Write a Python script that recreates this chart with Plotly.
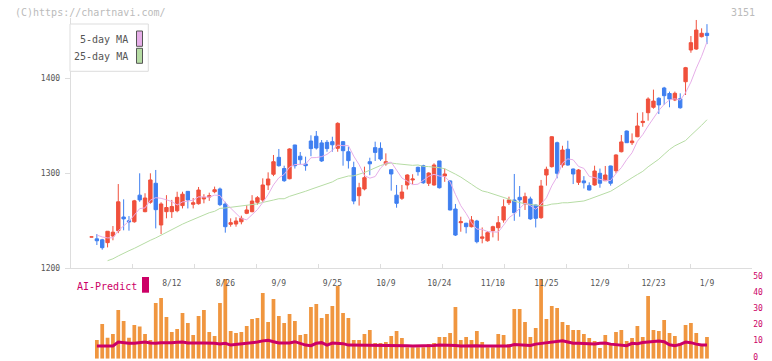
import numpy as np
import pandas as pd
import plotly.graph_objects as go

# ---------------- data ----------------
opens = [1233, 1231, 1230, 1227, 1234, 1239.6, 1254, 1250, 1249, 1277,
         1259.6, 1269.5, 1289.5, 1245.6, 1259.6, 1259.6, 1260.6, 1266, 1281, 1267.4,
         1268, 1273, 1275, 1280.6, 1283.5, 1267.7, 1246.3, 1246.6, 1249, 1257.9,
         1259.6, 1269.5, 1271.9, 1287.7, 1299, 1316.8, 1305, 1294.3, 1329.8, 1318,
         1309.8, 1334, 1339, 1332, 1332.6, 1333.3, 1326.3, 1333.3, 1322.7, 1306,
         1276.4, 1283.5, 1312.2, 1327, 1326.3, 1310, 1303.8, 1277, 1273.7, 1287.7,
         1293, 1306.3, 1308, 1289.5, 1287.7, 1313, 1297.2, 1292, 1262.4, 1248,
         1247.4, 1243.8, 1249.8, 1231.6, 1229, 1239.6, 1242.7, 1250.8, 1269, 1271.9,
         1274.7, 1267.7, 1273, 1266.6, 1253.3, 1298.2, 1307, 1332.2, 1308.7, 1325.3,
         1304.5, 1290.5, 1292, 1287, 1287.7, 1300, 1292.2, 1307.7, 1302.7, 1322.7,
         1344.5, 1332.2, 1338.5, 1353.4, 1363.8, 1369.5, 1379, 1389.8, 1384, 1377.2,
         1378.5, 1396.4, 1429.8, 1430.8, 1443.8, 1447.4]
highs = [1233, 1236, 1231, 1239, 1244.5, 1288.7, 1272.6, 1255, 1272, 1300,
         1279, 1300, 1303.5, 1269.5, 1277, 1272, 1280.6, 1280.6, 1281, 1274,
         1285.6, 1278, 1279.6, 1286, 1285, 1270, 1252.6, 1253.7, 1255.4, 1266.6,
         1277, 1276, 1294.7, 1301, 1319.3, 1325.6, 1308, 1326.3, 1330, 1322.4,
         1317.5, 1340, 1344.5, 1335, 1335, 1338.5, 1353.7, 1334, 1328, 1312.2,
         1290, 1307, 1316.4, 1333.3, 1332.6, 1321, 1304, 1287.7, 1287.7, 1299,
         1299, 1307, 1309, 1301, 1310.5, 1313, 1305, 1292.5, 1267.7, 1254.3,
         1248, 1255, 1251, 1243, 1239.3, 1244.8, 1255, 1272.6, 1275.4, 1299.3,
         1286.6, 1279.6, 1275.4, 1267, 1293, 1307, 1339, 1333.3, 1329, 1334.3,
         1305, 1304.5, 1297, 1290.5, 1308, 1305, 1307.7, 1308, 1320, 1340.3,
         1345, 1342, 1363.7, 1364.3, 1380, 1388.1, 1380, 1391, 1386, 1386,
         1384.2, 1412, 1444.5, 1461.4, 1452.6, 1457]
lows = [1233, 1224.5, 1219.6, 1222, 1229.5, 1237, 1240, 1239.6, 1248, 1270,
        1259, 1268, 1242, 1236, 1252.6, 1253, 1259, 1263, 1263, 1263,
        1267, 1268.4, 1271, 1279, 1265.5, 1237.5, 1243.8, 1243.8, 1246.3, 1257,
        1259, 1267, 1270, 1282.4, 1297, 1307, 1291, 1293.7, 1305, 1309.5,
        1302.7, 1318, 1325, 1312, 1322.7, 1322.7, 1322.7, 1308, 1305, 1267.4,
        1266, 1282, 1298, 1313, 1313, 1308, 1281.7, 1263.8, 1272, 1283,
        1288.4, 1297.5, 1289, 1286.6, 1287, 1284, 1291, 1261, 1234, 1238.5,
        1236.8, 1243, 1226.3, 1226.3, 1228, 1232.6, 1229, 1248, 1266.6, 1250,
        1254.3, 1261.4, 1251, 1243, 1252, 1287, 1306, 1294.7, 1306, 1308,
        1288.7, 1287.7, 1284, 1282, 1287, 1284.8, 1292, 1287, 1300, 1322,
        1332, 1329.8, 1338, 1349, 1355.4, 1368, 1362.4, 1372, 1369.5, 1376,
        1368, 1382.4, 1426.9, 1430, 1443, 1436]
closes = [1233, 1229, 1221.7, 1239, 1238, 1270, 1252, 1249, 1271, 1272,
          1274, 1293, 1261.7, 1267.7, 1264, 1265, 1274.7, 1278, 1272, 1269,
          1282.4, 1274.7, 1276.4, 1282.7, 1267, 1243.8, 1248, 1249.8, 1252.6, 1261.4,
          1270.8, 1274.3, 1287.7, 1294, 1312.2, 1308, 1292.2, 1325.6, 1308, 1314.3,
          1308, 1326, 1326.6, 1313, 1326, 1330, 1352.6, 1323.8, 1313.3, 1270.8,
          1284.8, 1295.4, 1310, 1322, 1315, 1312.2, 1299.3, 1268.4, 1280.3, 1298.2,
          1294, 1301.7, 1290, 1300.3, 1308.7, 1284.8, 1299.3, 1261.4, 1235, 1249,
          1243.8, 1250.8, 1228, 1233, 1237.5, 1243.8, 1248, 1264.8, 1272, 1258.5,
          1272, 1275.4, 1252, 1252.6, 1286.6, 1304.2, 1338.5, 1300, 1324.5, 1308.7,
          1299.3, 1303.5, 1290, 1282.4, 1302.4, 1289.5, 1298.2, 1289.5, 1319.3, 1333,
          1332.2, 1334, 1349.8, 1354.7, 1378.2, 1376, 1372, 1381.7, 1378.2, 1384.2,
          1369, 1411.2, 1437.5, 1450.8, 1447.4, 1445]

# moving-average values before enough history is visible
ma5_head = [None, 1235, 1233, 1232]
ma25_head = [None, None, None, 1208, 1210, 1213, 1216, 1218.5, 1221, 1224,
             1227, 1229.5, 1232, 1235, 1238, 1240.5, 1244, 1246.5, 1249, 1251.5,
             1253.5, 1256, 1258.5, 1260]

# volume-like bars (first candle has none)
volume = [None, 11.5, 21.4, 13.0, 15.2, 30.0, 23.3, 13.0, 20.8, 19.8, 15.2,
          11.5, 34.4, 37.4, 25.7, 16.5, 18.3, 28.2, 22.0, 14.6, 26.3,
          30.0, 16.5, 14.0, 34.4, 49.2, 17.1, 15.8, 16.5, 20.2, 24.5,
          25.1, 40.5, 22.6, 36.8, 26.3, 22.0, 27.6, 23.3, 14.6, 15.2,
          31.9, 33.7, 25.1, 27.6, 32.5, 44.9, 28.2, 25.1, 11.5, 11.5,
          15.2, 17.7, 9.7, 9.7, 10.3, 14.0, 17.1, 12.8, 7.0, 7.0,
          7.0, 7.0, 9.1, 9.7, 13.4, 13.4, 15.8, 31.9, 11.5, 13.4,
          11.5, 17.1, 10.3, 7.0, 7.0, 15.2, 14.6, 9.1, 30.7, 30.7,
          22.6, 13.4, 18.9, 49.2, 24.5, 32.5, 31.3, 22.6, 20.8, 17.7,
          17.7, 15.2, 12.8, 10.9, 6.6, 14.6, 9.7, 16.5, 17.7, 10.9,
          12.8, 20.2, 13.4, 38.7, 17.7, 17.1, 23.9, 15.8, 14.0, 9.7,
          20.8, 22.0, 15.8, 8.4, 13.4]
ai_predict = [None, 7.8, 7.8, 7.8, 7.8, 10.3, 9.7, 9.5, 9.5, 9.9, 10.3,
              9.7, 9.5, 9.9, 9.7, 9.9, 10.1, 10.3, 9.7, 9.5, 9.7,
              9.7, 9.7, 9.5, 9.1, 9.5, 8.4, 8.8, 8.8, 9.5, 9.7,
              10.3, 11.0, 11.3, 10.5, 9.7, 9.7, 9.7, 10.5, 9.5, 8.4,
              8.0, 9.5, 9.9, 8.4, 9.7, 9.7, 9.3, 8.4, 8.4, 8.4,
              8.4, 8.2, 8.0, 8.4, 8.2, 8.0, 8.0, 8.4, 8.0, 7.8,
              7.8, 7.8, 7.8, 8.2, 8.4, 8.4, 8.0, 8.2, 7.8, 8.0,
              8.2, 8.0, 7.8, 7.8, 7.8, 7.8, 7.8, 7.8, 8.8, 8.6,
              8.6, 8.2, 9.0, 9.5, 9.9, 10.5, 11.0, 11.1, 10.3, 9.5,
              9.5, 9.3, 9.1, 9.1, 9.5, 9.7, 9.0, 8.6, 8.2, 8.0,
              9.5, 9.3, 10.0, 10.3, 10.5, 10.9, 10.5, 8.6, 8.0, 8.8,
              10.3, 9.9, 9.0, 8.4, 8.4]

tick_labels = ["8/12", "8/26", "9/9", "9/25", "10/9", "10/24",
               "11/10", "11/25", "12/9", "12/23", "1/9"]
tick_index = [15, 25, 35, 45, 55, 65, 75, 85, 95, 105, 115]
price_ticks = [1200, 1300, 1400]
vol_ticks = [0, 10, 20, 30, 40, 50]

# ---------------- derived ----------------
idx = list(range(len(closes)))
cs = pd.Series(closes, dtype=float)
ma5 = cs.rolling(5).mean().tolist()
ma5[:len(ma5_head)] = ma5_head
ma25 = cs.rolling(25).mean().tolist()
ma25[:len(ma25_head)] = ma25_head

# ---------------- style / layout constants ----------------
W, H = 772, 361
FONT = "DejaVu Sans Mono"
RED, BLUE = "#f0503c", "#3f7ff0"
PINK, GREEN = "#e6aee8", "#b6dca4"
ORANGE, MAG = "#f0963f", "#cc0066"
AXC = "#dddddd"

def fx(p):
    return p / W

def fy(p):
    return 1 - p / H

x_left, x_right = 70.7, 752.3
x_range = [-3.89, 123.47]

fig = go.Figure()

fig.add_trace(go.Scatter(x=idx, y=ma25, mode="lines", line=dict(color=GREEN, width=1),
                         xaxis="x", yaxis="y", hoverinfo="skip"))
fig.add_trace(go.Scatter(x=idx, y=ma5, mode="lines", line=dict(color=PINK, width=1),
                         xaxis="x", yaxis="y", hoverinfo="skip"))
fig.add_trace(go.Candlestick(
    x=idx, open=opens, high=highs, low=lows, close=closes,
    increasing=dict(line=dict(color=RED, width=1), fillcolor=RED),
    decreasing=dict(line=dict(color=BLUE, width=1), fillcolor=BLUE),
    whiskerwidth=0, xaxis="x", yaxis="y"))

fig.add_trace(go.Bar(x=idx, y=volume, width=0.7, marker=dict(color=ORANGE, line=dict(width=0)),
                     xaxis="x2", yaxis="y2"))
fig.add_trace(go.Scatter(x=idx, y=ai_predict, mode="lines", line=dict(color=MAG, width=3),
                         xaxis="x2", yaxis="y2"))

fig.update_layout(
    width=W, height=H, margin=dict(l=0, r=0, t=0, b=0, autoexpand=False),
    paper_bgcolor="white", plot_bgcolor="white",
    showlegend=False, boxgap=0.1,
    font=dict(family=FONT, size=8, color="#555555"),
    xaxis=dict(domain=[fx(x_left), fx(x_right)], range=x_range, anchor="y", automargin=False,
               rangeslider=dict(visible=False), showgrid=False, zeroline=False,
               showline=True, linecolor=AXC, linewidth=1,
               tickmode="array", tickvals=list(np.linspace(x_range[0], x_range[1], 12)),
               ticks="inside", ticklen=4, tickcolor=AXC, showticklabels=False),
    yaxis=dict(domain=[fy(268.3), fy(18)], range=[1200, 1200 + (268.3 - 18) / 0.95],
               anchor="x", automargin=False, showgrid=False, zeroline=False, showline=True,
               linecolor=AXC, linewidth=1, tickmode="array", tickvals=price_ticks,
               ticks="outside", ticklen=5, tickcolor=AXC, ticklabelstandoff=3,
               ticklabeloverflow="allow",
               tickfont=dict(family=FONT, size=8, color="#555555")),
    xaxis2=dict(domain=[fx(x_left), fx(x_right)], range=x_range, anchor="y2", automargin=False,
                side="top", ticklabelposition="inside", showgrid=False, zeroline=False,
                showline=False, ticks="", tickmode="array", tickvals=tick_index,
                ticklabeloverflow="allow",
                ticktext=tick_labels, tickfont=dict(family=FONT, size=8, color="#555555")),
    yaxis2=dict(domain=[fy(358.7), fy(277.7)], range=[0, 50], anchor="x2", side="right",
                automargin=False, showgrid=False, zeroline=False, showline=False, ticks="",
                tickmode="array", tickvals=vol_ticks, ticklabeloverflow="allow",
                ticklabelshift=-2,
                tickfont=dict(family=FONT, size=8, color=MAG)),
)

shapes = [
    dict(type="rect", xref="paper", yref="paper", x0=fx(70), x1=fx(148.3), y0=fy(71.3), y1=fy(24),
         line=dict(color=AXC, width=1), fillcolor="white", layer="above"),
    dict(type="rect", xref="paper", yref="paper", x0=fx(136.5), x1=fx(142.5), y0=fy(46.3), y1=fy(31),
         line=dict(color="#555555", width=1), fillcolor=PINK, layer="above"),
    dict(type="rect", xref="paper", yref="paper", x0=fx(136.5), x1=fx(142.5), y0=fy(63.3), y1=fy(48.3),
         line=dict(color="#555555", width=1), fillcolor=GREEN, layer="above"),
    dict(type="rect", xref="paper", yref="paper", x0=fx(142), x1=fx(149), y0=fy(292.7), y1=fy(277),
         line=dict(width=0), fillcolor=MAG, layer="above"),
]
fig.update_layout(shapes=shapes)

ann = [
    dict(text="5-day MA", x=fx(130), y=fy(39.5), xanchor="right", yanchor="middle",
         font=dict(family=FONT, size=10, color="#555555")),
    dict(text="25-day MA", x=fx(130), y=fy(56.5), xanchor="right", yanchor="middle",
         font=dict(family=FONT, size=10, color="#555555")),
    dict(text="(C)https://chartnavi.com/", x=fx(13), y=fy(12.5), xanchor="left", yanchor="middle",
         font=dict(family=FONT, size=10, color="#bbbbbb")),
    dict(text="3151", x=fx(757), y=fy(12), xanchor="right", yanchor="middle",
         font=dict(family=FONT, size=10, color="#bbbbbb")),
    dict(text="AI-Predict", x=fx(75), y=fy(286), xanchor="left", yanchor="middle",
         font=dict(family=FONT, size=10, color=MAG)),
]
for a in ann:
    a.update(xref="paper", yref="paper", showarrow=False)
fig.update_layout(annotations=ann)

fig.write_html("out.html", config={"displayModeBar": False},
               post_script="document.body.style.margin='0px';document.body.style.overflow='hidden';")
